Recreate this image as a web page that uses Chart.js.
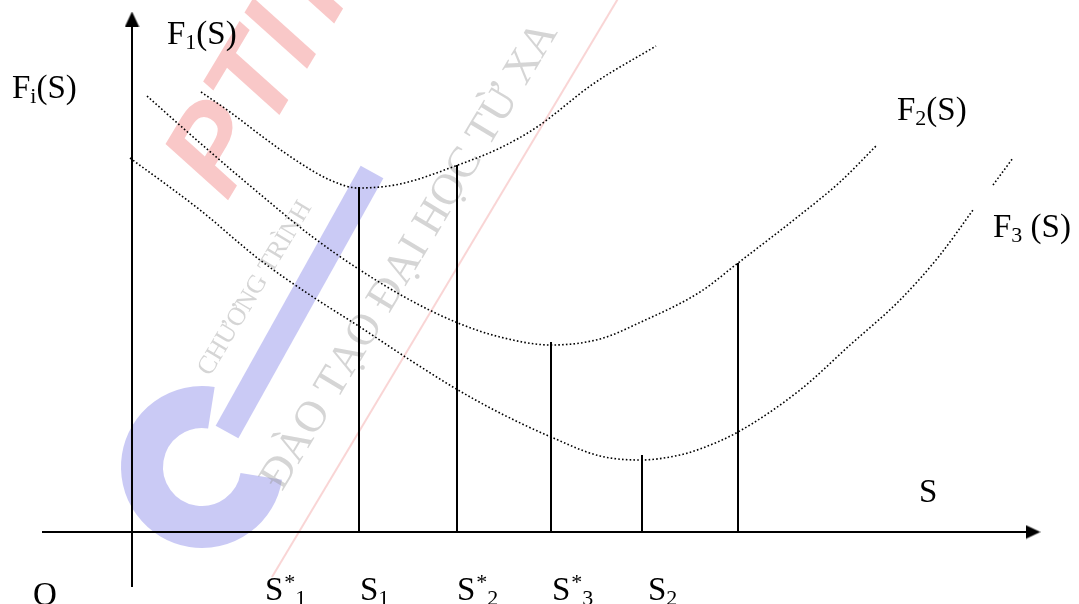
<!DOCTYPE html>
<html><head><meta charset="utf-8">
<script src="https://cdn.jsdelivr.net/npm/chart.js@4/dist/chart.umd.min.js"></script>
<style>html,body{margin:0;padding:0;background:#fff;overflow:hidden}#wrap{width:1079px;height:604px;position:relative}</style>
</head><body><div id="wrap"><canvas id="c"></canvas></div>
<script>
// Curve F1(S)
const f1X = [69, 98, 135, 168, 198, 226, 268, 326, 368, 405, 461, 524];
const f1Y = [440, 420, 392, 369, 352, 344, 348, 367, 384, 405, 448, 486];
// Curve F2(S)
const f2X = [15, 68, 135, 178, 228, 278, 326, 368, 419, 468, 509, 568, 606, 668, 708, 745];
const f2Y = [436, 389, 332, 297, 262, 232, 209, 195, 187, 193, 210, 240, 269, 317, 350, 387];
// Curve F3(S) (null = gap where the line is broken)
const f3X = [-2, 68, 128, 178, 228, 278, 326, 368, 419, 468, 509, 548, 568, 606, 668, 718, 768, 808, 841, 851, 861, 881];
const f3Y = [374, 322, 272, 237, 205, 172, 142, 119, 95, 76, 72, 77, 83, 100, 142, 187, 232, 277, 322, null, 347, 374];
// Vertical drop lines
const dropX = [227, 325, 419, 510, 606];
const dropTop = [345, 367, 190, 77, 269];
// Axes extents
const xAxisFrom = -90, xAxisTo = 895, xArrowAt = 901;
const yAxisFrom = -55, yAxisTo = 508, yArrowAt = 513;
// Tick labels along S axis
const tickBase = ['S', 'S', 'S', 'S', 'S'];
const tickSup = ['*', '', '*', '*', ''];
const tickSub = ['1', '1', '2', '3', '2'];
const tickX = [133, 228, 325, 420, 516];
const tickY = -68;
// Curve / axis labels
const lblMain = ['F', 'F', 'F', 'F'];
const lblSub = ['1', 'i', '2', '3'];
const lblTail = ['(S)', '(S)', '(S)', ' (S)'];
const lblX = [35, -120, 765, 861];
const lblY = [488, 434, 412, 295];
const axisNameS = {text: 'S', x: 787, y: 30};
const originName = {text: 'O', x: -99, y: -73};

const pts = (xs, ys) => xs.map((x, i) => ({x: x, y: ys[i]}));

function arrowCanvas(dir) {
  const c = document.createElement('canvas');
  c.width = 15; c.height = 15;
  const g = c.getContext('2d');
  g.fillStyle = '#000';
  g.beginPath();
  if (dir === 'up') { g.moveTo(7.5, 0); g.lineTo(14.5, 15); g.lineTo(0.5, 15); }
  else { g.moveTo(15, 7.5); g.lineTo(0, 0.5); g.lineTo(0, 14.5); }
  g.closePath(); g.fill();
  return c;
}

const dotted = {showLine: true, pointRadius: 0, borderColor: '#000', borderWidth: 1.6,
  borderDash: [1.6, 2.2], cubicInterpolationMode: 'monotone', spanGaps: false, fill: false};
const solid = {showLine: true, pointRadius: 0, borderColor: '#000', borderWidth: 2, fill: false, tension: 0};

const datasets = [
  Object.assign({label: 'F1', data: pts(f1X, f1Y)}, dotted),
  Object.assign({label: 'F2', data: pts(f2X, f2Y)}, dotted),
  Object.assign({label: 'F3', data: pts(f3X, f3Y)}, dotted),
  Object.assign({label: 'xaxis', data: [{x: xAxisFrom, y: 0}, {x: xAxisTo, y: 0}]}, solid),
  Object.assign({label: 'yaxis', data: [{x: 0, y: yAxisFrom}, {x: 0, y: yAxisTo}]}, solid),
  {label: 'xarrow', data: [{x: xArrowAt, y: 0}], pointStyle: arrowCanvas('right'), pointRadius: 8, showLine: false},
  {label: 'yarrow', data: [{x: 0, y: yArrowAt}], pointStyle: arrowCanvas('up'), pointRadius: 8, showLine: false}
];
dropX.forEach((x, i) => {
  datasets.push(Object.assign({label: 'drop' + i, data: [{x: x, y: 0}, {x: x, y: dropTop[i]}]}, solid));
});

const SERIF = '"Liberation Serif", "Times New Roman", serif';

const watermark = {
  id: 'watermark',
  beforeDatasetsDraw(chart) {
    const ctx = chart.ctx;
    const xs = chart.scales.x, ys = chart.scales.y;
    const ox = xs.getPixelForValue(0), oy = ys.getPixelForValue(0);
    ctx.save();
    ctx.strokeStyle = 'rgba(240,150,150,0.4)';
    ctx.lineWidth = 2;
    ctx.beginPath(); ctx.moveTo(ox + 140, oy + 45); ctx.lineTo(ox + 490, oy - 540); ctx.stroke();
    ctx.save();
    ctx.translate(ox + 95, oy - 330);
    ctx.rotate(-1.03);
    ctx.fillStyle = 'rgba(240,110,110,0.38)';
    ctx.font = 'bold italic 120px "Liberation Sans", sans-serif';
    ctx.fillText('PTIT', 0, 0);
    ctx.restore();
    ctx.strokeStyle = 'rgba(150,150,235,0.5)';
    ctx.lineWidth = 26;
    ctx.beginPath(); ctx.moveTo(ox + 95, oy - 100); ctx.lineTo(ox + 240, oy - 360); ctx.stroke();
    ctx.lineWidth = 42;
    ctx.beginPath();
    ctx.arc(ox + 70, oy - 65, 60, Math.PI * 0.05, Math.PI * 1.55);
    ctx.stroke();
    ctx.fillStyle = 'rgba(150,150,150,0.4)';
    ctx.save();
    ctx.translate(ox + 78, oy - 155);
    ctx.rotate(-1.03);
    ctx.font = '26px ' + SERIF;
    ctx.fillText('CHƯƠNG TRÌNH', 0, 0);
    ctx.restore();
    ctx.save();
    ctx.translate(ox + 150, oy - 40);
    ctx.rotate(-1.03);
    ctx.font = '44px ' + SERIF;
    ctx.fillText('ĐÀO TẠO ĐẠI HỌC TỪ XA', 0, 0);
    ctx.restore();
    ctx.restore();
  }
};

const labels = {
  id: 'labels',
  afterDatasetsDraw(chart) {
    const ctx = chart.ctx;
    const xs = chart.scales.x, ys = chart.scales.y;
    ctx.save();
    ctx.fillStyle = '#000';
    ctx.textBaseline = 'alphabetic';
    const big = '33px ' + SERIF, small = '22px ' + SERIF;
    lblMain.forEach((m, i) => {
      let px = xs.getPixelForValue(lblX[i]), py = ys.getPixelForValue(lblY[i]);
      ctx.font = big; ctx.fillText(m, px, py); px += ctx.measureText(m).width;
      ctx.font = small; ctx.fillText(lblSub[i], px, py + 5); px += ctx.measureText(lblSub[i]).width;
      ctx.font = big; ctx.fillText(lblTail[i], px, py);
    });
    tickBase.forEach((b, i) => {
      let px = xs.getPixelForValue(tickX[i]), py = ys.getPixelForValue(tickY);
      ctx.font = big; ctx.fillText(b, px, py); px += ctx.measureText(b).width;
      if (tickSup[i]) {
        ctx.font = small; ctx.fillText(tickSup[i], px + 1, py - 11);
        px += ctx.measureText(tickSup[i]).width + 1;
        ctx.fillText(tickSub[i], px, py + 5);
      } else {
        ctx.font = small; ctx.fillText(tickSub[i], px, py + 5);
      }
    });
    ctx.font = big;
    ctx.fillText(axisNameS.text, xs.getPixelForValue(axisNameS.x), ys.getPixelForValue(axisNameS.y));
    ctx.fillText(originName.text, xs.getPixelForValue(originName.x), ys.getPixelForValue(originName.y));
    ctx.restore();
  }
};

new Chart(document.getElementById('c'), {
  type: 'scatter',
  data: {datasets: datasets},
  options: {
    responsive: true, maintainAspectRatio: false, animation: false,
    layout: {padding: 0, autoPadding: false},
    plugins: {legend: {display: false}, tooltip: {enabled: false}},
    events: [],
    scales: {
      x: {type: 'linear', display: false, min: -132, max: 947},
      y: {type: 'linear', display: false, min: -72, max: 532}
    }
  },
  plugins: [watermark, labels]
});
</script>
</body></html>
